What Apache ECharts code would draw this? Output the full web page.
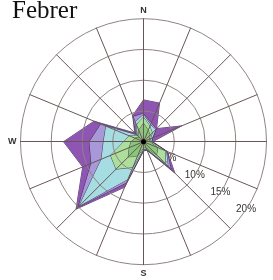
<!DOCTYPE html>
<html>
<head>
<meta charset="utf-8">
<style>
  html, body { margin: 0; padding: 0; background: #fff; }
  #main { width: 273px; height: 280px; }
</style>
<script src="https://cdn.jsdelivr.net/npm/echarts@6/dist/echarts.min.js"></script>
</head>
<body>
<div id="main"></div>
<script>
// wind directions, clockwise from north
var directions = ['N', 'NNE', 'NE', 'ENE', 'E', 'ESE', 'SE', 'SSE',
                  'S', 'SSW', 'SW', 'WSW', 'W', 'WNW', 'NW', 'NNW'];
// E falls outside the picture, so only three are written
var compassLabels = { N: 'N', S: 'S', W: 'W' };
var ringTicks = [5, 10, 15, 20];

// frequency (%) per speed class, innermost class first
var class1 = [3, 2, 1.5, 1, 1, 2.5, 3, 1, 1, 2.5, 3.5, 2.5, 2, 1.5, 1, 2];
var class2 = [1, 0.7, 0.5, 0.2, 0.2, 1.3, 2, 0.2, 0.2, 2, 2.8, 3.3, 1.2, 1, 0.3, 1];
var class3 = [0.4, 0.3, 0.8, 0.3, 0.1, 0.2, 0.6, 0.1, 0.1, 2.1, 8.5, 1.6, 3.3, 4.1, 0.2, 0.5];
var class4 = [0.2, 0.3, 0.1, 0.1, 0, 0.1, 0.7, 0.1, 0.1, 0.6, 0.2, 1.8, 2.3, 0.9, 0.2, 0.9];
var class5 = [2.2, 3.5, 0.1, 5.1, 0.2, 0.1, 0.9, 0.1, 0.1, 0.8, 0.5, 1.5, 4.2, 1.2, 0.3, 0.2];

var classColors = ['#88c77b', '#addf9c', '#a6dde2', '#a898d8', '#8e55b2'];

var CX = 143.5, CY = 141.7, R = 123;

var chart = echarts.init(document.getElementById('main'));

// radar goes counter-clockwise, so flip the compass order (N stays first)
function ccw(arr) {
    return [arr[0]].concat(arr.slice(1).reverse());
}

function buildIndicators(withNames) {
    return ccw(directions).map(function (d) {
        return { name: withNames ? (compassLabels[d] || '') : '', max: 20 };
    });
}

// stack the classes, outermost polygon first so the inner ones sit on top
function buildSeries() {
    var classes = [class1, class2, class3, class4, class5];
    var sums = directions.map(function () { return 0; });
    var layers = [];
    classes.forEach(function (cls, i) {
        sums = sums.map(function (s, k) { return s + cls[k]; });
        layers.push({
            type: 'radar',
            radarIndex: 0,
            symbol: 'none',
            z: 2,
            lineStyle: { color: '#2e2238', width: 0.8 },
            areaStyle: { color: classColors[i], opacity: 1 },
            data: [{ value: ccw(sums.slice()) }]
        });
    });
    return layers.reverse();
}

var option = {
    animation: false,
    title: {
        text: 'Febrer',
        left: 7,
        top: -6,
        textStyle: { fontFamily: 'Liberation Serif', fontSize: 25, fontWeight: 'normal', color: '#111' }
    },
    radar: [{
        // data layer
        center: [CX, CY],
        radius: R,
        startAngle: 90,
        shape: 'circle',
        splitNumber: 4,
        indicator: buildIndicators(false),
        axisName: { show: false },
        axisLine: { show: false },
        splitLine: { show: false },
        splitArea: { show: false }
    }, {
        // grid drawn over the polygons
        center: [CX, CY],
        radius: R,
        startAngle: 90,
        shape: 'circle',
        splitNumber: 4,
        z: 5,
        indicator: buildIndicators(true),
        axisNameGap: 4,
        axisName: { color: '#333', fontSize: 9, fontWeight: 'bold', fontFamily: 'Liberation Sans' },
        axisLine: { lineStyle: { color: '#685656', width: 1 } },
        splitLine: { lineStyle: { color: '#8f8383', width: 1 } },
        splitArea: { show: false }
    }],
    // ring labels along the south-east
    polar: { center: [CX, CY], radius: R },
    angleAxis: {
        type: 'value', min: 0, max: 360, startAngle: -33.5,
        show: false
    },
    radiusAxis: {
        type: 'value', min: 0, max: 20, interval: 5,
        axisLine: { show: false },
        axisTick: { show: false },
        splitLine: { show: false },
        axisLabel: {
            showMinLabel: false,
            margin: 0,
            align: 'center',
            verticalAlign: 'middle',
            color: '#333',
            fontSize: 10,
            fontFamily: 'Liberation Sans',
            formatter: function (v) { return ringTicks.indexOf(v) >= 0 ? v + '%' : ''; }
        }
    },
    graphic: [{
        type: 'circle',
        z: 10,
        shape: { cx: CX, cy: CY, r: 2.5 },
        style: { fill: '#000' }
    }],
    series: buildSeries()
};

chart.setOption(option);
</script>
</body>
</html>
